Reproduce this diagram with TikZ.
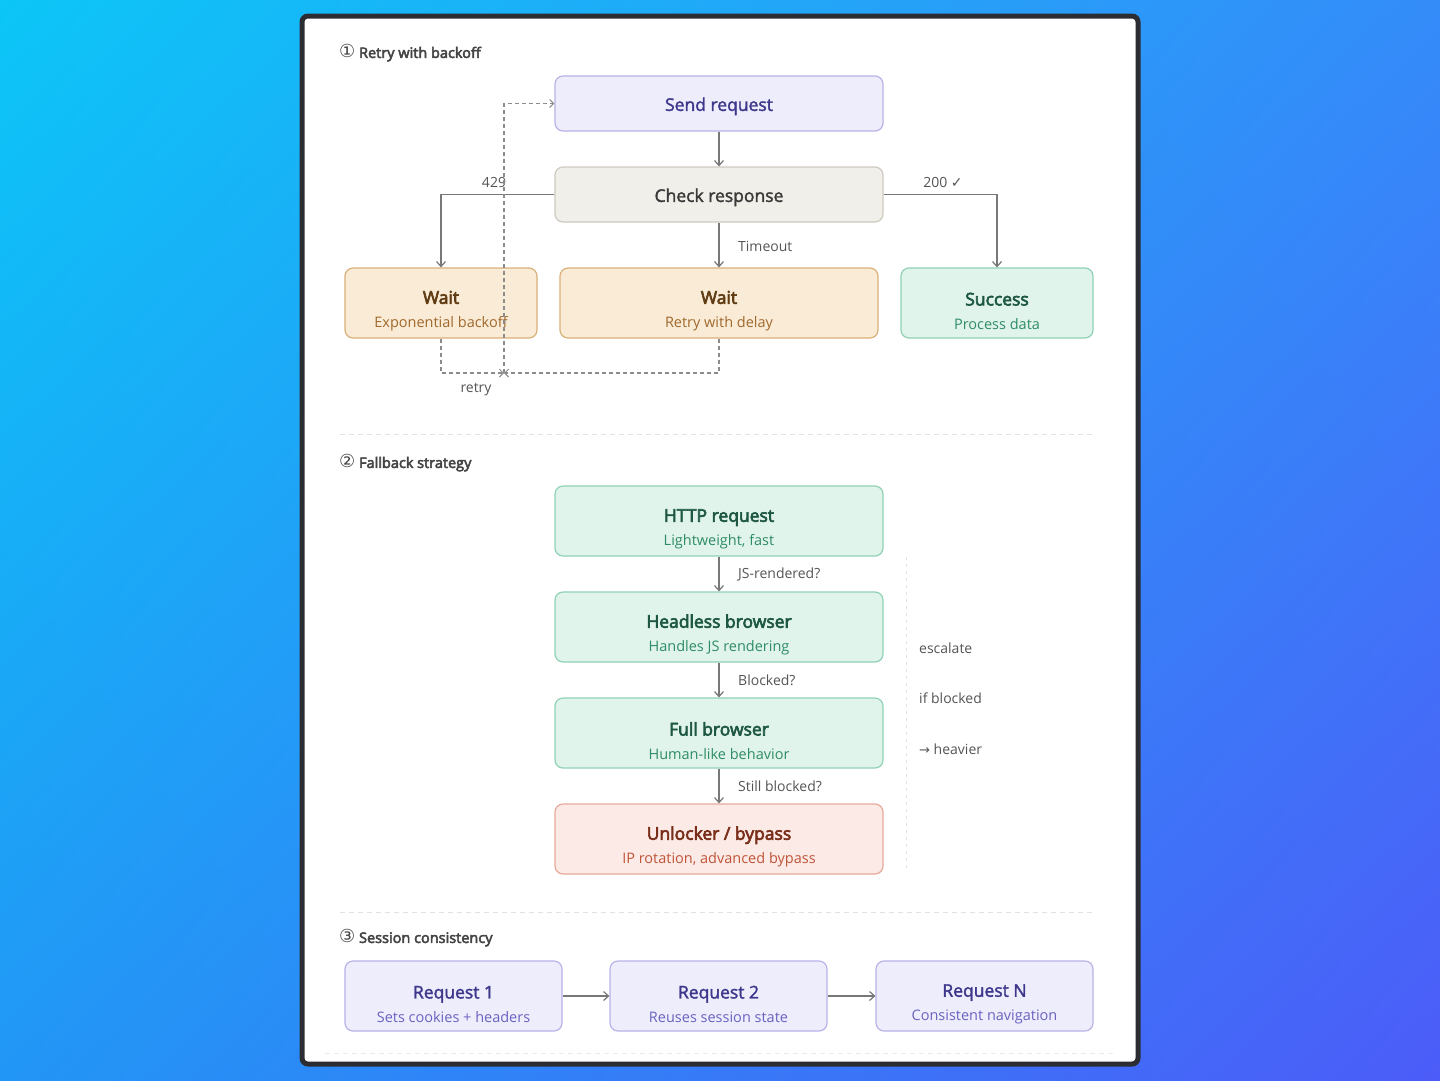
\documentclass[tikz,border=0pt]{standalone}
\usepackage{fontspec}
\setmainfont{Open Sans}
\newfontfamily\symf{DejaVu Sans}
\newfontfamily\semif[FakeBold=3.5]{Open Sans}
\newfontfamily\medf[FakeBold=2]{Open Sans}
\usetikzlibrary{arrows.meta,shadings}
\definecolor{bgA}{RGB}{12,198,247}
\definecolor{bgB}{RGB}{52,140,249}
\definecolor{bgC}{RGB}{34,150,246}
\definecolor{bgD}{RGB}{76,92,248}
\definecolor{frameC}{RGB}{43,45,51}
\definecolor{lavF}{RGB}{238,237,252}
\definecolor{lavD}{RGB}{184,178,232}
\definecolor{lavT}{RGB}{62,56,140}
\definecolor{lavS}{RGB}{106,99,192}
\definecolor{greyF}{RGB}{241,239,233}
\definecolor{greyD}{RGB}{206,202,192}
\definecolor{greyT}{RGB}{58,58,58}
\definecolor{orF}{RGB}{250,235,214}
\definecolor{orD}{RGB}{218,176,122}
\definecolor{orT}{RGB}{95,60,20}
\definecolor{orS}{RGB}{160,105,45}
\definecolor{grF}{RGB}{225,244,236}
\definecolor{grD}{RGB}{143,209,181}
\definecolor{grT}{RGB}{30,88,66}
\definecolor{grS}{RGB}{46,140,102}
\definecolor{rdF}{RGB}{251,234,229}
\definecolor{rdD}{RGB}{232,168,154}
\definecolor{rdT}{RGB}{120,46,26}
\definecolor{rdS}{RGB}{192,85,58}
\definecolor{lineC}{RGB}{120,120,120}
\definecolor{labC}{RGB}{85,85,85}
\definecolor{secC}{RGB}{68,68,68}
\definecolor{sepC}{RGB}{225,225,225}
% two-line titles: tall strut pushes the text block down to match the reference
\newcommand{\ttl}[1]{{\semif\fontsize{17.5}{24}\selectfont\rule{0pt}{29pt}#1}}
\newcommand{\mttl}[1]{{\medf\fontsize{17.5}{24}\selectfont\rule{0pt}{29pt}#1}}
\newcommand{\ottl}[1]{{\medf\fontsize{17.5}{24}\selectfont\rule{0pt}{19pt}#1}}
\newcommand{\sbt}[1]{{\fontsize{14.5}{24}\selectfont #1}}
\newcommand{\circd}[1]{{\symf\fontsize{18}{18}\selectfont #1}}
\tikzset{
  box/.style={rectangle, rounded corners=8pt, line width=1.2pt, align=center, inner sep=0pt, font=\fontsize{14.5}{24}\selectfont},
  lav/.style={box, fill=lavF, draw=lavD, text=lavT},
  gry/.style={box, fill=greyF, draw=greyD, text=greyT},
  org/.style={box, fill=orF, draw=orD, text=orT},
  grn/.style={box, fill=grF, draw=grD, text=grT},
  red/.style={box, fill=rdF, draw=rdD, text=rdT},
  conn/.style={draw=lineC, line width=1.4pt, -{Straight Barb[length=5pt,width=9pt,line width=1.2pt]}},
  dconn/.style={draw=lineC!85, line width=1.1pt, dash pattern=on 4pt off 3pt},
  dtip/.style={-{Straight Barb[length=4pt,width=8pt,line width=1pt]}},
  lbl/.style={text=labC, font=\fontsize{14}{16}\selectfont, inner sep=0pt},
  sec/.style={text=secC, font=\semif\fontsize{14.5}{17}\selectfont, anchor=west, inner sep=0pt},
  sep/.style={draw=sepC, line width=1pt, dash pattern=on 5pt off 4pt},
}
\begin{document}
\begin{tikzpicture}[x=1pt,y=-1pt]
\useasboundingbox (0,0) rectangle (1440,1080);
\shade[upper left=bgA, upper right=bgB, lower left=bgC, lower right=bgD] (0,0) rectangle (1440,1080);
\draw[fill=white, draw=frameC, line width=5pt, rounded corners=6pt] (302,16) rectangle (1138,1064);

% Section 1
\node[sec] (s1) at (339,53) {\circd{①} Retry with backoff};
\node[lav, minimum width=328pt, minimum height=55pt] (send) at (719,103.5) {\ottl{Send request}};
\node[gry, minimum width=328pt, minimum height=55pt] (check) at (719,194.5) {\ottl{Check response}};
\node[org, minimum width=192pt, minimum height=70pt] (waitl) at (441,303) {\ttl{Wait}\\\textcolor{orS}{\sbt{Exponential backoff}}};
\node[org, minimum width=318pt, minimum height=70pt] (waitm) at (719,303) {\ttl{Wait}\\\textcolor{orS}{\sbt{Retry with delay}}};
\node[grn, minimum width=192pt, minimum height=70pt] (succ) at (997,303) {\ttl{Success}\\\textcolor{grS}{\sbt{Process data}}};

\draw[conn] (send) -- (check);
\draw[conn] (check.west) -| (waitl.north);
\draw[conn] (check.east) -| (succ.north);
\draw[conn] (check) -- (waitm);
\node[lbl] (l429) at (494,182) {429};
\node[lbl] (l200) at (943,182) {200 {\symf\fontsize{14}{16}\selectfont ✓}};
\node[lbl, anchor=west] (ltime) at (738,246) {Timeout};

\coordinate (jn) at (504,373);
\draw[dconn, dtip] (waitl.south) |- (jn);
\draw[dconn, dtip] (waitm.south) |- (jn);
\draw[dconn, dtip] (jn) |- (send.west);
\node[lbl] (lretry) at (476,390) {retry};

\draw[sep] (340,434) -- (1095,434);

% Section 2
\node[sec] (s2) at (339,463) {\circd{②} Fallback strategy};
\node[grn, minimum width=328pt, minimum height=70pt] (http) at (719,521) {\ttl{HTTP request}\\\textcolor{grS}{\sbt{Lightweight, fast}}};
\node[grn, minimum width=328pt, minimum height=70pt] (head) at (719,627) {\ttl{Headless browser}\\\textcolor{grS}{\sbt{Handles JS rendering}}};
\node[grn, minimum width=328pt, minimum height=70pt] (full) at (719,733) {\ttl{Full browser}\\\textcolor{grS}{\sbt{Human-like behavior}}};
\node[red, minimum width=328pt, minimum height=70pt] (unl) at (719,839) {\ttl{Unlocker / bypass}\\\textcolor{rdS}{\sbt{IP rotation, advanced bypass}}};
\draw[conn] (http) -- (head);
\draw[conn] (head) -- (full);
\draw[conn] (full) -- (unl);
\node[lbl, anchor=west] (ljs) at (738,574) {JS-rendered?};
\node[lbl, anchor=west] (lbl2) at (738,680) {Blocked?};
\node[lbl, anchor=west] (lsb) at (738,786) {Still blocked?};
\draw[draw=sepC, line width=1pt, dash pattern=on 3pt off 4pt] (906,557) -- (906,872);
\node[lbl, anchor=west] (esc) at (919,648) {escalate};
\node[lbl, anchor=west] (ifb) at (919,698) {if blocked};
\node[lbl, anchor=west] (hv) at (919,749) {{\symf\fontsize{13}{14}\selectfont →} heavier};

\draw[sep] (340,912) -- (1095,912);

% Section 3
\node[sec] (s3) at (339,938) {\circd{③} Session consistency};
\node[lav, minimum width=217pt, minimum height=70pt] (r1) at (453.5,996) {\mttl{Request 1}\\\textcolor{lavS}{\sbt{Sets cookies + headers}}};
\node[lav, minimum width=217pt, minimum height=70pt] (r2) at (718.5,996) {\mttl{Request 2}\\\textcolor{lavS}{\sbt{Reuses session state}}};
\node[lav, minimum width=217pt, minimum height=70pt] (rn) at (984.5,996) {\mttl{Request N}\\\textcolor{lavS}{\sbt{Consistent navigation}}};
\draw[conn] (r1) -- (r2);
\draw[conn] (r2) -- (rn);
\draw[draw=sepC!70, line width=1pt, dash pattern=on 5pt off 4pt] (325,1053) -- (1115,1053);
\end{tikzpicture}
\end{document}
